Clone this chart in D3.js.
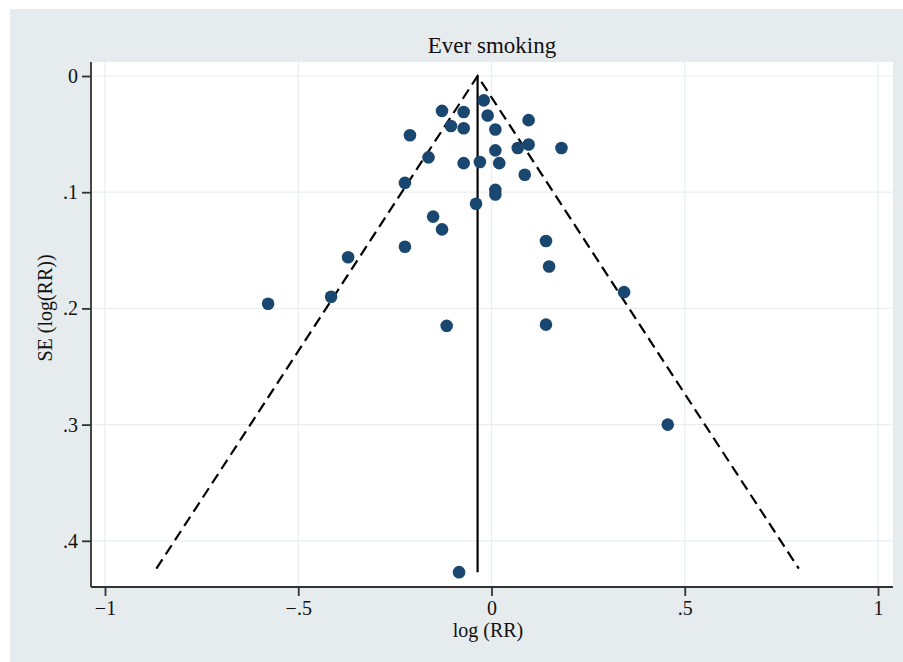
<!DOCTYPE html>
<html>
<head>
<meta charset="utf-8">
<script src="https://cdn.jsdelivr.net/npm/d3@7"></script>
<style>
  html, body { margin: 0; padding: 0; background: #ffffff; }
  svg { display: block; }
  text { font-family: "Liberation Serif", "Times New Roman", serif; fill: #111; }
</style>
</head>
<body>
<script>
// ---- data ----
const logRR = [-0.578, -0.415, -0.371, -0.224, -0.224, -0.211, -0.163, -0.151, -0.128, -0.116,
  -0.128, -0.105, -0.072, -0.072, -0.072, -0.084, -0.040, -0.030, -0.020, -0.010,
  0.010, 0.010, 0.020, 0.010, 0.010, 0.068, 0.096, 0.096, 0.086, 0.181,
  0.141, 0.149, 0.141, 0.343, 0.456];
const seLogRR = [0.196, 0.190, 0.156, 0.147, 0.092, 0.051, 0.070, 0.121, 0.132, 0.215,
  0.030, 0.043, 0.031, 0.045, 0.075, 0.427, 0.110, 0.074, 0.021, 0.034,
  0.046, 0.064, 0.075, 0.098, 0.102, 0.062, 0.059, 0.038, 0.085, 0.062,
  0.142, 0.164, 0.214, 0.186, 0.300];
const pooled = -0.036;
const funnelSEmax = 0.424;
const lineSEmax = 0.427;
const xTicks = [-1, -0.5, 0, 0.5, 1];
const xTickLabels = ["\u22121", "\u2212.5", "0", ".5", "1"];
const yTicks = [0, 0.1, 0.2, 0.3, 0.4];
const yTickLabels = ["0", ".1", ".2", ".3", ".4"];
const title = "Ever smoking";
const xTitle = "log (RR)";
const yTitle = "SE (log(RR))";

// ---- layout ----
const W = 903, H = 662;
const svg = d3.select("body").append("svg").attr("width", W).attr("height", H);
svg.append("rect").attr("x", 10).attr("y", 9).attr("width", W - 10).attr("height", H - 9).attr("fill", "#e6ebee");

const plot = {left: 91, right: 893, top: 62, bottom: 587};
svg.append("rect").attr("x", plot.left).attr("y", plot.top)
  .attr("width", plot.right - plot.left).attr("height", plot.bottom - plot.top).attr("fill", "#ffffff");

const x = d3.scaleLinear().domain([-1, 1]).range([105, 878]);
const y = d3.scaleLinear().domain([0, 0.4]).range([76, 540.8]);

// gridlines
svg.append("g").selectAll("line.gx").data(xTicks).join("line")
  .attr("x1", d => x(d)).attr("x2", d => x(d)).attr("y1", plot.top).attr("y2", plot.bottom)
  .attr("stroke", "#eaeef1").attr("stroke-width", 1.2);
svg.append("g").selectAll("line.gy").data(yTicks).join("line")
  .attr("x1", plot.left).attr("x2", plot.right).attr("y1", d => y(d)).attr("y2", d => y(d))
  .attr("stroke", "#eaeef1").attr("stroke-width", 1.2);

// axes
const xAxis = d3.axisBottom(x).tickValues(xTicks).tickSize(9).tickPadding(5)
  .tickFormat((d, i) => xTickLabels[i]);
const gx = svg.append("g").attr("transform", `translate(0,${plot.bottom})`).call(xAxis);
gx.select(".domain").attr("d", `M${plot.left},0H${plot.right}`).attr("stroke", "#333").attr("stroke-width", 1.8);
gx.selectAll(".tick line").attr("stroke", "#333").attr("stroke-width", 1.8);
gx.selectAll(".tick text").style("font-family", '"Liberation Serif", serif').style("font-size", "20px").attr("fill", "#111");

const yAxis = d3.axisLeft(y).tickValues(yTicks).tickSize(9).tickPadding(4)
  .tickFormat((d, i) => yTickLabels[i]);
const gy = svg.append("g").attr("transform", `translate(${plot.left},0)`).call(yAxis);
gy.select(".domain").attr("d", `M0,${plot.top}V${plot.bottom}`).attr("stroke", "#333").attr("stroke-width", 1.8);
gy.selectAll(".tick line").attr("stroke", "#333").attr("stroke-width", 1.8);
gy.selectAll(".tick text").style("font-family", '"Liberation Serif", serif').style("font-size", "20px").attr("fill", "#111");

// funnel
const funnel = [[pooled - 1.96 * funnelSEmax, funnelSEmax], [pooled, 0], [pooled + 1.96 * funnelSEmax, funnelSEmax]];
svg.append("path").datum(funnel)
  .attr("d", d3.line().x(d => x(d[0])).y(d => y(d[1])))
  .attr("fill", "none").attr("stroke", "#000").attr("stroke-width", 2.2)
  .attr("stroke-dasharray", "11,6");
svg.append("line").attr("x1", x(pooled)).attr("x2", x(pooled)).attr("y1", y(0)).attr("y2", y(lineSEmax))
  .attr("stroke", "#000").attr("stroke-width", 2.2);

// points
svg.append("g").selectAll("circle").data(logRR).join("circle")
  .attr("cx", d => x(d)).attr("cy", (d, i) => y(seLogRR[i])).attr("r", 6.3)
  .attr("fill", "#1a476f");

// titles
svg.append("text").attr("x", 492).attr("y", 53).attr("text-anchor", "middle")
  .style("font-size", "23px").text(title);
svg.append("text").attr("x", 488).attr("y", 637).attr("text-anchor", "middle")
  .style("font-size", "20px").text(xTitle);
svg.append("text").attr("transform", "translate(52,308) rotate(-90)").attr("text-anchor", "middle")
  .style("font-size", "20px").text(yTitle);
</script>
</body>
</html>
